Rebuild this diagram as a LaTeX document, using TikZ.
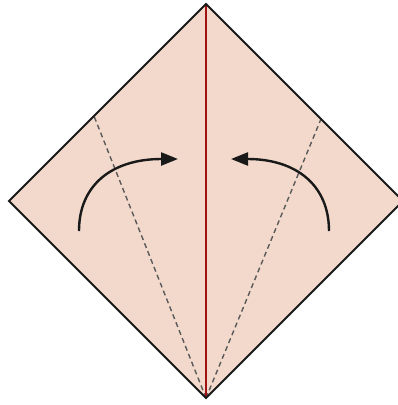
\documentclass[tikz,border=0pt]{standalone}
\usetikzlibrary{arrows.meta}
\definecolor{paper}{HTML}{F2D9CC}
\definecolor{crease}{HTML}{A01212}
\definecolor{dashgrey}{HTML}{5A5A5A}
\begin{document}
\begin{tikzpicture}[x=1pt,y=-1pt,
  edge/.style={draw=black!90,line width=1.8pt,line join=miter},
  valley/.style={draw=dashgrey,line width=1.4pt,dash pattern=on 5pt off 3.5pt},
  centre/.style={draw=crease,line width=1.6pt},
  foldarrow/.style={draw=black!90,line width=2.4pt,-{Triangle[length=17pt,width=13pt]}}]
\useasboundingbox (0,0) rectangle (398,405);
\clip (0,0) rectangle (398,405);
\coordinate (T) at (206,4);
\coordinate (L) at (9,201);
\coordinate (B) at (206,398);
\coordinate (R) at (403,201);
\coordinate (PL) at (94,116);
\coordinate (PR) at (321,119);
\fill[paper] (T) -- (L) -- (B) -- (R) -- cycle;
\draw[valley] (B) -- (PL);
\draw[valley] (B) -- (PR);
\draw[centre] (T) -- (B);
\draw[edge] (T) -- (L) -- (B) -- (R) -- cycle;
\coordinate (a1) at (79,231);
\coordinate (a1e) at (178,159);
\coordinate (a2) at (329,231);
\coordinate (a2e) at (231,159);
\draw[foldarrow] (a1) .. controls (79,185) and (112,159) .. (a1e);
\draw[foldarrow] (a2) .. controls (329,185) and (296,159) .. (a2e);
\end{tikzpicture}
\end{document}
